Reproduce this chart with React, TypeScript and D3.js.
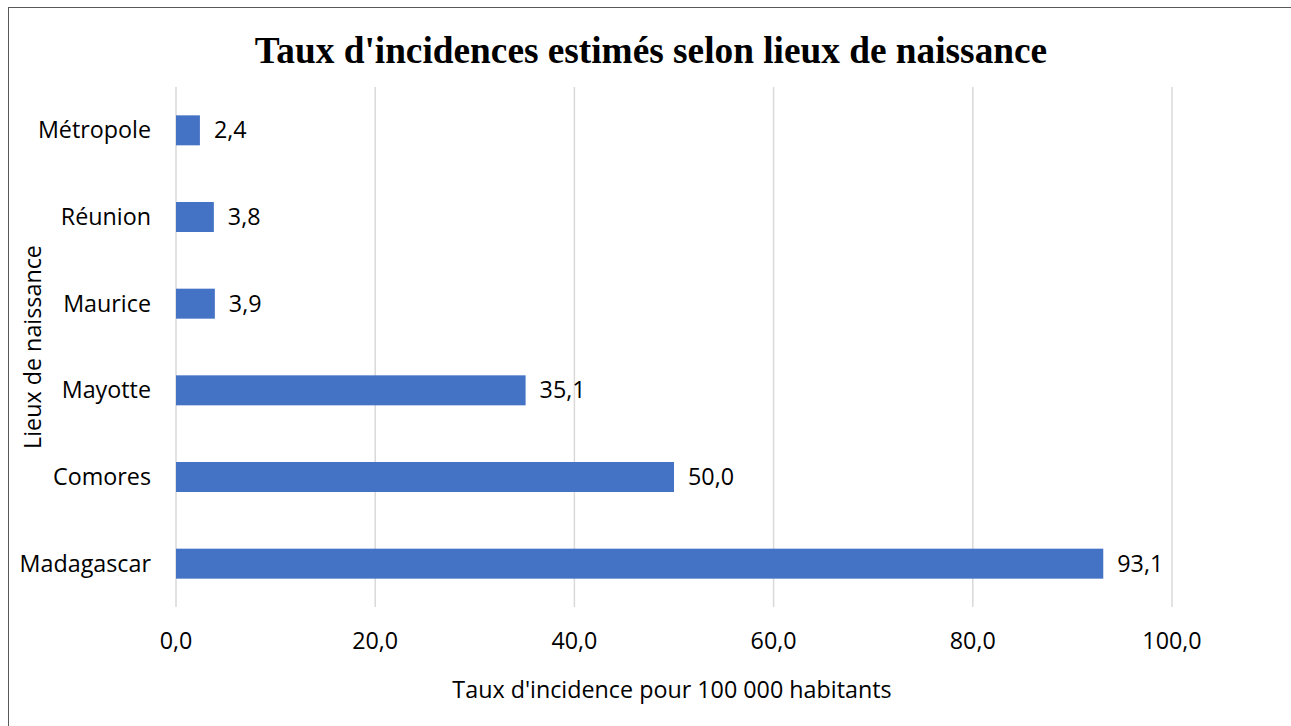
import React from "react";
import * as d3 from "d3";

const categories = ["Métropole", "Réunion", "Maurice", "Mayotte", "Comores", "Madagascar"];
const values = [2.4, 3.8, 3.9, 35.1, 50.0, 93.1];
const xTicks = [0, 20, 40, 60, 80, 100];
const title = "Taux d'incidences estimés selon lieux de naissance";
const xTitle = "Taux d'incidence pour 100 000 habitants";
const yTitle = "Lieux de naissance";

const W = 1291;
const H = 726;
const left = 176;
const right = 1172;
const top = 87;
const bottom = 607;
const font = "'Open Sans', sans-serif";
const fs = 23.3;

export default function App() {
  const x = d3.scaleLinear().domain([0, 100]).range([left, right]);
  const y = d3.scaleBand().domain(categories).range([top, bottom]).paddingInner(0.654).paddingOuter(0.327);
  const fmt = (v: number) => v.toFixed(1).replace(".", ",");
  return (
    <svg width={W} height={H} style={{ position: "absolute", left: 0, top: 0, background: "#fff" }}>
      <rect x={8.5} y={7.5} width={W} height={H} fill="#fff" stroke="#595959" strokeWidth={1} />
      <text x={651} y={63} textAnchor="middle" fontFamily="'Liberation Serif', 'Times New Roman', serif" fontWeight="bold" fontSize={37.3} fill="#000">{title}</text>
      {xTicks.map((t) => (
        <line key={t} x1={x(t)} x2={x(t)} y1={top} y2={bottom} stroke="#d9d9d9" strokeWidth={1.5} />
      ))}
      {categories.map((c, i) => (
        <g key={c}>
          <rect x={x(0)} y={y(c)!} width={x(values[i]) - x(0)} height={y.bandwidth()} fill="#4472C4" />
          <text x={left - 25} y={y(c)! + y.bandwidth() / 2} dy="0.35em" textAnchor="end" fontFamily={font} fontSize={fs} fill="#000">{c}</text>
          <text x={x(values[i]) + 14} y={y(c)! + y.bandwidth() / 2} dy="0.35em" textAnchor="start" fontFamily={font} fontSize={fs} fill="#000">{fmt(values[i])}</text>
        </g>
      ))}
      {xTicks.map((t) => (
        <text key={t} x={x(t)} y={641} dy="0.35em" textAnchor="middle" fontFamily={font} fontSize={fs} fill="#000">{fmt(t)}</text>
      ))}
      <text x={672} y={690} dy="0.35em" textAnchor="middle" fontFamily={font} fontSize={fs} fill="#000">{xTitle}</text>
      <text transform={`translate(33,347) rotate(-90)`} dy="0.35em" textAnchor="middle" fontFamily={font} fontSize={fs} fill="#000">{yTitle}</text>
    </svg>
  );
}
